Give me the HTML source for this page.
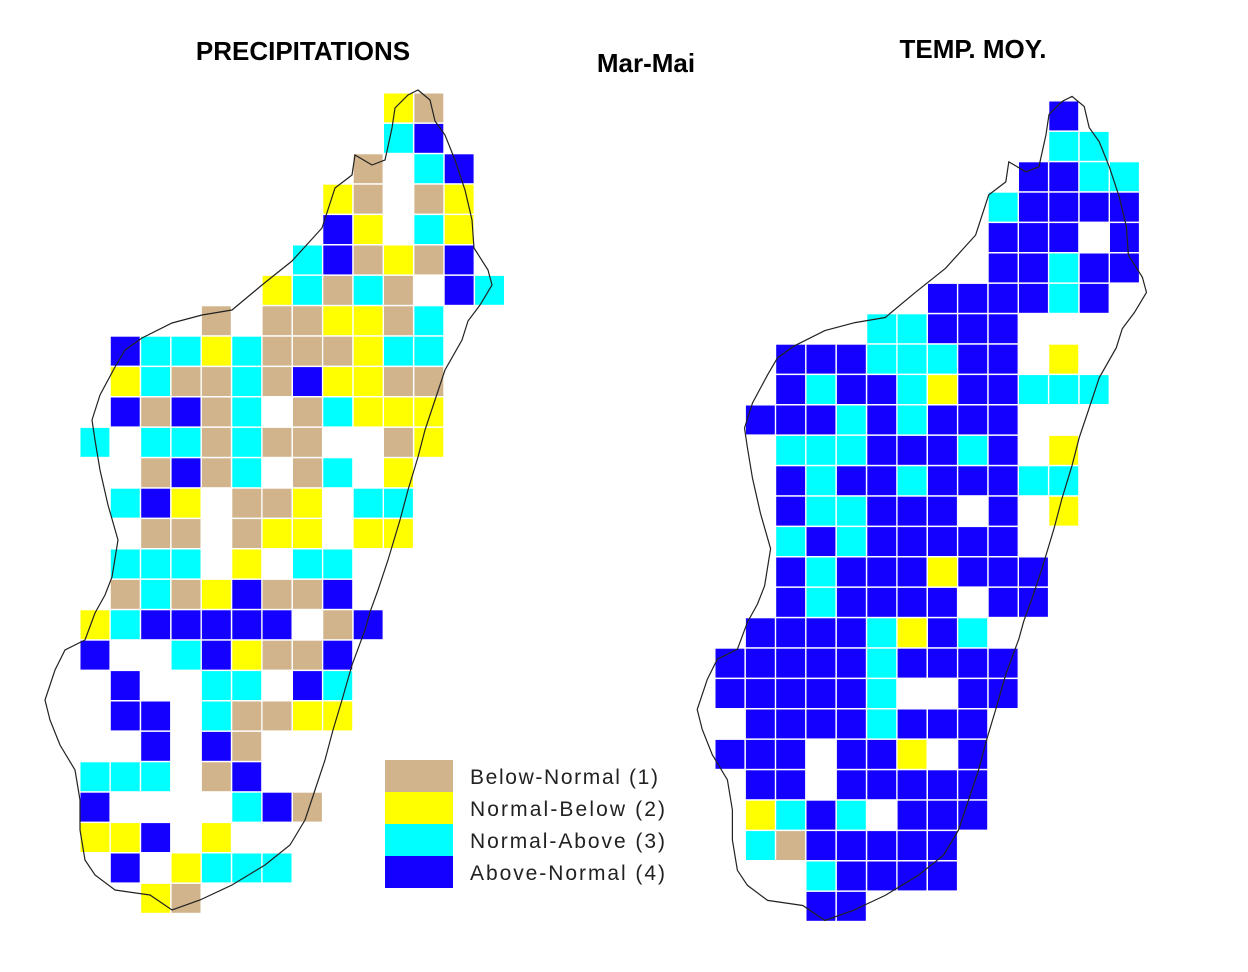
<!DOCTYPE html>
<html><head><meta charset="utf-8"><style>
html,body{margin:0;padding:0;background:#fff;}
svg{display:block;}
text{font-family:"Liberation Sans",sans-serif;}
</style></head><body>
<svg id="chart" width="1248" height="972" viewBox="0 0 1248 972">
<text x="303" y="60" text-anchor="middle" font-size="26" font-weight="bold" fill="#000">PRECIPITATIONS</text>
<text x="646" y="72" text-anchor="middle" font-size="26" font-weight="bold" fill="#000">Mar-Mai</text>
<text x="973" y="58" text-anchor="middle" font-size="26" font-weight="bold" fill="#000">TEMP. MOY.</text>
<g id="precipCells"></g>
<g id="tempCells"></g>
<path id="outlineL" fill="none" stroke="#222" stroke-width="1.2"></path>
<path id="outlineR" fill="none" stroke="#222" stroke-width="1.2"></path>
<g id="legend"></g>
</svg>
<script>
const categories = ["Below-Normal (1)", "Normal-Below (2)", "Normal-Above (3)", "Above-Normal (4)"];
const colors = ["#fff", "#d2b48c", "#ffff00", "#00ffff", "#1400ff"];
const precipRows = [
"00000000002100","00000000003400","00000000010340","00000000210120","00000000420320",
"00000003412140","00000023131043","00001011221300","04332311123300","02311314221100",
"04141301322200","30331311001200","00141301302000","03420112033000","00110122022000",
"03330203300000","01312411400000","23444440140000","40034211400000","04003304300000",
"04403112200000","00404100000000","33301400000000","40000341000000","22402000000000",
"04023330000000","00210000000000"];
const tempRows = [
"00000000000400","00000000000330","00000000004433","00000000034444","00000000044404",
"00000000044344","00000004444340","00000334440000","00444333440200","00434432443330",
"04443434440000","00333444340200","00434434443300","00433444040200","00343444440000",
"00434442444000","00434444044000","04444324300000","44444344440000","44444300440000",
"04444344400000","44404420400000","04404444400000","02343044400000","03144444000000",
"00034444000000","00044000000000"];

const NS = "http://www.w3.org/2000/svg";
const cw = 30.35, rh = 30.4;
function drawGrid(g, rows, x0, y0, prefix) {
  rows.forEach((row, r) => {
    for (let c = 0; c < row.length; c++) {
      const v = +row[c];
      if (!v) continue;
      const rect = document.createElementNS(NS, "rect");
      rect.setAttribute("x", (x0 + c * cw).toFixed(1));
      rect.setAttribute("y", (y0 + r * rh).toFixed(1));
      rect.setAttribute("width", (cw - 1.5).toFixed(1));
      rect.setAttribute("height", (rh - 1.5).toFixed(1));
      rect.setAttribute("fill", colors[v]);
      
      
      g.appendChild(rect);
    }
  });
}
drawGrid(document.getElementById("precipCells"), precipRows, 80.5, 93.5, "precip");
drawGrid(document.getElementById("tempCells"), tempRows, 715.5, 101.5, "temp");

const coast = [[418,90],[430,100],[435,121],[445,135],[455,160],[465,190],[472,220],[474,248],[488,270],[492,285],[480,305],[468,321],[462,340],[445,370],[435,400],[425,430],[418,457],[408,490],[400,520],[388,560],[378,590],[370,612],[365,630],[352,665],[342,700],[333,730],[325,760],[315,790],[305,820],[290,845],[265,865],[232,885],[200,900],[172,910],[150,895],[115,890],[95,875],[85,860],[80,830],[80,800],[75,770],[60,745],[50,720],[45,700],[55,670],[65,650],[85,640],[95,613],[105,595],[112,577],[118,540],[108,505],[100,470],[95,440],[92,420],[100,395],[115,367],[125,350],[142,338],[172,323],[202,315],[232,310],[262,285],[292,261],[322,228],[335,188],[352,175],[355,155],[372,165],[385,160],[392,128],[395,108],[408,95],[418,90]];
function pathFrom(dx, dy, s) {
  return coast.map((p, i) => (i ? "L" : "M") + (p[0] * s + dx).toFixed(1) + " " + (p[1] * s + dy).toFixed(1)).join(" ") + " Z";
}
document.getElementById("outlineL").setAttribute("d", pathFrom(0, 0, 1));
document.getElementById("outlineR").setAttribute("d", pathFrom(652, 6, 1.005));

const lg = document.getElementById("legend");
categories.forEach((name, i) => {
  const r = document.createElementNS(NS, "rect");
  r.setAttribute("x", 385); r.setAttribute("y", 760 + i * 32);
  r.setAttribute("width", 68); r.setAttribute("height", 32);
  r.setAttribute("fill", colors[i + 1]);
  
  
  lg.appendChild(r);
  const t = document.createElementNS(NS, "text");
  t.setAttribute("x", 470); t.setAttribute("y", 784 + i * 32);
  t.setAttribute("font-size", "21"); t.setAttribute("fill", "#222");
  t.setAttribute("textLength", i === 0 ? 188 : 195);
  t.textContent = name;
  
  
  lg.appendChild(t);
});
</script>
</body></html>
